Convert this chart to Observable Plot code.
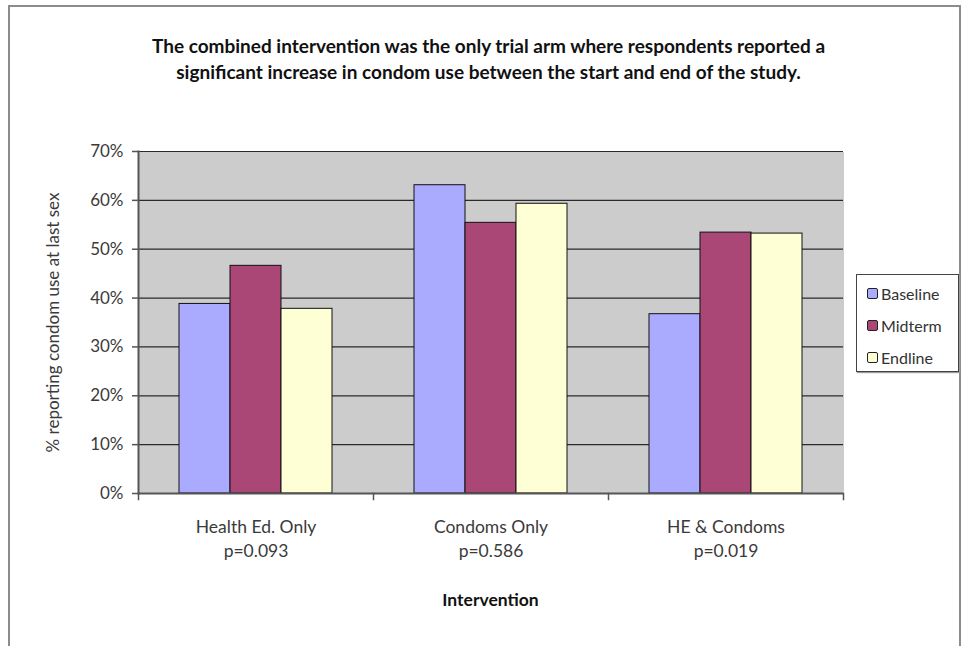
<!DOCTYPE html>
<html>
<head>
<meta charset="utf-8">
<script src="https://cdn.jsdelivr.net/npm/d3@7"></script>
<script src="https://cdn.jsdelivr.net/npm/@observablehq/plot@0.6"></script>
<style>
  body { margin: 0; background: #fff; font-family: Lato, "Open Sans", sans-serif; }
  #wrap { position: relative; width: 977px; height: 646px; overflow: hidden; }
  #border { position: absolute; left: 8px; top: 5px; width: 953px; height: 700px; border: 2px solid #8c8c8c; box-sizing: border-box; }
  #title { position: absolute; left: 0; width: 977px; top: 33px; text-align: center; font-weight: bold; font-size: 19px; line-height: 26px; color: #111; }
  #chart { position: absolute; left: 0; top: 0; }
  #xlabel { position: absolute; left: 138px; width: 705px; top: 589px; text-align: center; font-weight: bold; font-size: 17.5px; line-height: 22px; color: #111; }
  #legend { position: absolute; left: 856px; top: 274px; width: 103px; height: 98px; border: 1px solid #444; box-sizing: border-box; box-shadow: 1px 1px 1px #999; font-size: 16px; color: #333; }
  .item { position: absolute; left: 10px; display: flex; align-items: center; height: 20px; }
  .sw { width: 9px; height: 9px; border: 1px solid #222; border-radius: 2px; margin-right: 3px; }
</style>
</head>
<body>
<div id="wrap">
  <div id="border"></div>
  <div id="title">The combined intervention was the only trial arm where respondents reported a<br>significant increase in condom use between the start and end of the study.</div>
  <div id="chart"></div>
  <div id="xlabel">Intervention</div>
  <div id="legend"></div>
</div>
<script>
const categories = ["Health Ed. Only", "Condoms Only", "HE & Condoms"];
const pValues = ["p=0.093", "p=0.586", "p=0.019"];
const series = ["Baseline", "Midterm", "Endline"];
const baseline = [0.388, 0.631, 0.367];
const midterm = [0.466, 0.554, 0.534];
const endline = [0.378, 0.593, 0.532];
const colors = ["#aaaaff", "#aa4777", "#ffffd6"];
const yTicks = [0, 0.1, 0.2, 0.3, 0.4, 0.5, 0.6, 0.7];

const seriesValues = [baseline, midterm, endline];
const data = [];
categories.forEach((c, i) => series.forEach((s, j) => data.push({cat: c, series: s, value: seriesValues[j][i]})));
const pOf = new Map(categories.map((c, i) => [c, pValues[i]]));

const W = 977, H = 646, mL = 138, mR = 134, mT = 151, mB = 153;
const innerH = H - mT - mB;

const chart = Plot.plot({
  width: W,
  height: H,
  marginLeft: mL,
  marginRight: mR,
  marginTop: mT,
  marginBottom: mB,
  style: {fontFamily: "Lato, 'Open Sans', sans-serif", fontSize: "17px", color: "#3a3a3a", background: "transparent", overflow: "visible"},
  fx: {domain: categories, padding: 0, label: null, axis: null},
  x: {domain: series, paddingInner: 0, paddingOuter: 0.77, axis: null},
  y: {domain: [0, 0.7], axis: null},
  color: {domain: series, range: colors},
  marks: [
    Plot.frame({fill: "#cccccc", shapeRendering: "crispEdges"}),
    Plot.ruleY(yTicks, {stroke: "#2a2a2a", strokeWidth: 1.2}),
    Plot.barY(data, {fx: "cat", x: "series", y: "value", fill: "series", stroke: "#111", strokeWidth: 1}),
    Plot.axisY({ticks: yTicks, tickFormat: d3.format(".0%"), tickSize: 6, tickPadding: 9, stroke: "#555", strokeWidth: 1.5,
      label: "% reporting condom use at last sex", labelAnchor: "center", labelArrow: false, labelOffset: 92, fontSize: 17}),
    Plot.frame({anchor: "left", facetAnchor: "left", stroke: "#555", strokeWidth: 2}),
    Plot.frame({anchor: "left", insetTop: innerH, insetBottom: -6, stroke: "#555", strokeWidth: 1.5}),
    Plot.frame({anchor: "right", facetAnchor: "right", insetTop: innerH, insetBottom: -6, stroke: "#555", strokeWidth: 1.5}),
    Plot.ruleY([0], {stroke: "#555", strokeWidth: 1.8}),
    Plot.axisFx({anchor: "bottom", tickFormat: d => d + "\n" + pOf.get(d), tickSize: 0, tickPadding: 22, lineHeight: 1.4, label: null, fontSize: 17.5})
  ]
});
document.getElementById("chart").appendChild(chart);

const leg = document.getElementById("legend");
series.forEach((s, j) => {
  const it = document.createElement("div");
  it.className = "item";
  it.style.top = (8 + j * 32) + "px";
  it.innerHTML = `<div class="sw" style="background:${colors[j]}"></div><span>${s}</span>`;
  leg.appendChild(it);
});
</script>
</body>
</html>
